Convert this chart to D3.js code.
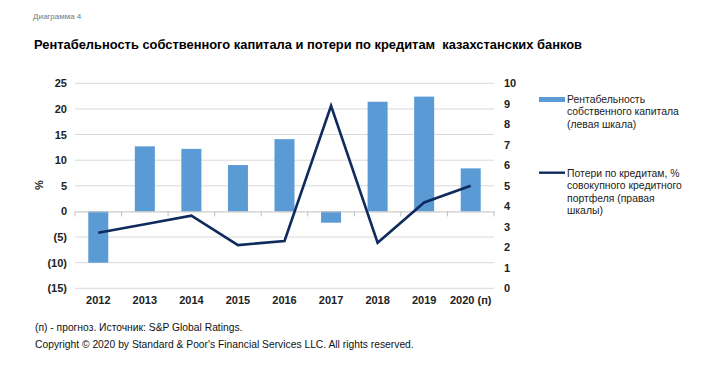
<!DOCTYPE html>
<html><head><meta charset="utf-8">
<script src="https://cdn.jsdelivr.net/npm/d3@7"></script>
<style>body{margin:0;background:#fff}svg{display:block}text{font-family:"Liberation Sans",Arial,sans-serif}</style>
</head><body>
<svg id="c" width="719" height="392"></svg>
<script>
const categories = ["2012","2013","2014","2015","2016","2017","2018","2019","2020 (п)"];
const roe = [-10.0, 12.7, 12.2, 9.05, 14.1, -2.2, 21.4, 22.4, 8.4];
const losses = [2.71, 3.12, 3.54, 2.11, 2.31, 8.9, 2.22, 4.19, 5.0];
const leftTicks = [25,20,15,10,5,0,-5,-10,-15];
const rightTicks = [0,1,2,3,4,5,6,7,8,9,10];

const svg = d3.select("#c");
const L = 75, R = 494, T = 83.3, B = 288.3;
const x = d3.scaleBand().domain(categories).range([L, R]).paddingInner(0.57).paddingOuter(0.285);
const xb = d3.scaleBand().domain(categories).range([L, R]);
const yL = d3.scaleLinear().domain([-15, 25]).range([B, T]);
const yR = d3.scaleLinear().domain([0, 10]).range([B, T]);

svg.append("text").attr("x", 33).attr("y", 19).attr("font-size", 8).attr("fill", "#777").text("Диаграмма 4");
svg.append("text").attr("x", 34).attr("y", 49).attr("font-size", 12.9).attr("font-weight", "bold").attr("fill", "#000")
  .attr("xml:space","preserve").text("Рентабельность собственного капитала и потери по кредитам  казахстанских банков");

// gridlines
svg.append("g").selectAll("line").data(leftTicks.filter(d => d !== 0)).join("line")
  .attr("x1", L).attr("x2", R).attr("y1", d => yL(d)).attr("y2", d => yL(d))
  .attr("stroke", "#d9d9d9").attr("stroke-width", 1);

// bars
svg.append("g").selectAll("rect").data(roe).join("rect")
  .attr("x", (d, i) => x(categories[i])).attr("width", x.bandwidth())
  .attr("y", d => yL(Math.max(0, d))).attr("height", d => Math.abs(yL(d) - yL(0)))
  .attr("fill", "#5b9bd5");

// zero axis line with ticks
const zg = svg.append("g").attr("transform", `translate(0,${yL(0)})`);
zg.call(d3.axisBottom(xb).tickSize(0).tickFormat(""));
zg.select(".domain").attr("stroke", "#bfbfbf");
zg.selectAll(".bt").data(d3.range(categories.length + 1)).join("line")
  .attr("x1", i => L + i * xb.step()).attr("x2", i => L + i * xb.step())
  .attr("y1", 0).attr("y2", 5).attr("stroke", "#bfbfbf");

// line
const line = d3.line().x((d, i) => xb(categories[i]) + xb.bandwidth() / 2).y(d => yR(d));
svg.append("path").datum(losses).attr("d", line).attr("fill", "none")
  .attr("stroke", "#0f2a5c").attr("stroke-width", 2.6).attr("stroke-linejoin", "miter");

// left axis
const la = svg.append("g").attr("transform", `translate(${L},0)`)
  .call(d3.axisLeft(yL).tickValues(leftTicks).tickSize(0).tickPadding(8)
    .tickFormat(d => d < 0 ? `(${-d})` : d));
la.select(".domain").remove();
la.selectAll("text").attr("font-size", 11).attr("font-weight", "bold").attr("fill", "#222")
  .attr("font-family", '"Liberation Sans",Arial,sans-serif');

// right axis
const ra = svg.append("g").attr("transform", `translate(${R},0)`)
  .call(d3.axisRight(yR).tickValues(rightTicks).tickSize(0).tickPadding(10));
ra.select(".domain").remove();
ra.selectAll("text").attr("font-size", 11).attr("font-weight", "bold").attr("fill", "#222")
  .attr("font-family", '"Liberation Sans",Arial,sans-serif');

// x labels
const xa = svg.append("g").attr("transform", `translate(0,${B})`)
  .call(d3.axisBottom(xb).tickSize(0).tickPadding(8));
xa.select(".domain").remove();
xa.selectAll("text").attr("font-size", 11).attr("font-weight", "bold").attr("fill", "#222")
  .attr("font-family", '"Liberation Sans",Arial,sans-serif');

// % label
svg.append("text").attr("transform", "translate(43,185) rotate(-90)").attr("text-anchor", "middle")
  .attr("font-size", 11).attr("font-weight", "bold").attr("fill", "#222").text("%");

// legend
svg.append("rect").attr("x", 539).attr("y", 97).attr("width", 26).attr("height", 5).attr("fill", "#5b9bd5");
const l1 = ["Рентабельность", "собственного капитала", "(левая шкала)"];
svg.append("g").selectAll("text").data(l1).join("text")
  .attr("x", 567).attr("y", (d, i) => 103 + i * 12.3).attr("font-size", 10.4).attr("fill", "#222").text(d => d);
svg.append("line").attr("x1", 539).attr("x2", 565).attr("y1", 172.7).attr("y2", 172.7)
  .attr("stroke", "#0f2a5c").attr("stroke-width", 2.4);
const l2 = ["Потери по кредитам, %", "совокупного кредитного", "портфеля (правая", "шкалы)"];
svg.append("g").selectAll("text").data(l2).join("text")
  .attr("x", 567).attr("y", (d, i) => 177 + i * 12.3).attr("font-size", 10.4).attr("fill", "#222").text(d => d);

// footer
svg.append("text").attr("x", 35).attr("y", 331).attr("font-size", 10.3).attr("fill", "#111")
  .text("(п) - прогноз. Источник: S&P Global Ratings.");
svg.append("text").attr("x", 35).attr("y", 348).attr("font-size", 10.3).attr("fill", "#111")
  .text("Copyright © 2020 by Standard & Poor's Financial Services LLC. All rights reserved.");
</script>
</body></html>
